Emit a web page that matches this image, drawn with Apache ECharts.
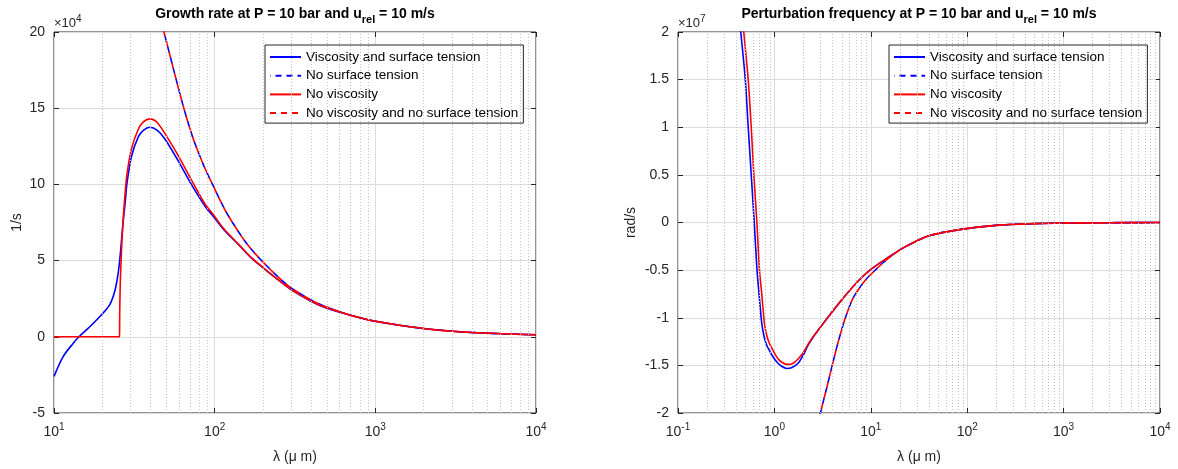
<!DOCTYPE html>
<html><head><meta charset="utf-8">
<script src="https://cdn.jsdelivr.net/npm/echarts@6/dist/echarts.min.js"></script>
<style>html,body{margin:0;padding:0;background:#fff}#c{width:1178px;height:469px}</style>
</head><body><div id="c"></div>
<script>
// ---------------- DATA ----------------
// Left panel: growth rate, values in units of 1e4 1/s, lambda in micrometres
const seriesNames = ['Viscosity and surface tension', 'No surface tension', 'No viscosity', 'No viscosity and no surface tension'];

const growthViscLambda = [10, 11.4, 13.1, 14.3, 16.7, 19.7, 22.2, 23.9, 25.1, 25.9, 26.8, 27.9, 28.4, 30.3, 33.4, 36, 39.5, 44, 48.9, 59.2, 71.6, 86.7, 100, 113.7, 140, 169, 200, 250, 300, 400, 495, 700, 1000, 2000, 4000, 10000];
const growthVisc       = [-2.6, -1.3, -0.45, 0, 0.66, 1.43, 2.09, 3.0, 4.2, 5.5, 7.3, 9.1, 10.0, 11.8, 13.1, 13.55, 13.75, 13.55, 13.0, 11.56, 10.0, 8.6, 7.8, 7.05, 6.07, 5.18, 4.53, 3.72, 3.08, 2.32, 1.89, 1.42, 1.02, 0.54, 0.28, 0.13];

const growthNoSTLambda = [45, 47.5, 50, 55, 63.5, 73, 85, 97, 115, 130, 160, 200, 250, 300, 400, 500, 700, 1000, 2000, 4000, 10000];
const growthNoST       = [21.5, 20.3, 19.4, 17.7, 15.2, 13.1, 11.3, 10.0, 8.4, 7.45, 6.05, 4.9, 3.9, 3.2, 2.4, 1.95, 1.42, 1.02, 0.54, 0.28, 0.13];

const growthNoViscLambda = [10, 25.6, 25.62, 25.7, 25.9, 26.3, 26.8, 27.5, 28.4, 30.3, 33.4, 36, 39.5, 44, 51.3, 59.2, 71.6, 86.7, 100, 113.7, 140, 169, 200, 250, 300, 400, 495, 700, 1000, 2000, 4000, 10000];
const growthNoVisc       = [0, 0, 1.0, 2.2, 3.8, 5.6, 7.3, 9.0, 10.6, 12.3, 13.6, 14.1, 14.3, 14.05, 13.0, 11.9, 10.3, 8.75, 7.9, 7.1, 6.1, 5.2, 4.55, 3.72, 3.1, 2.33, 1.9, 1.42, 1.02, 0.54, 0.28, 0.13];

const growthNoViscNoSTLambda = [45, 47.5, 50, 55, 63.5, 73, 85, 97, 115, 130, 160, 200, 250, 300, 400, 500, 700, 1000, 2000, 4000, 10000];
const growthNoViscNoST       = [21.5, 20.3, 19.4, 17.7, 15.2, 13.1, 11.3, 10.0, 8.4, 7.45, 6.05, 4.9, 3.9, 3.2, 2.4, 1.95, 1.42, 1.02, 0.54, 0.28, 0.13];

// Right panel: perturbation frequency, values in units of 1e7 rad/s
const freqViscLambda = [0.43, 0.448, 0.499, 0.535, 0.575, 0.618, 0.66, 0.692, 0.726, 0.743, 0.762, 0.789, 0.828, 0.885, 0.966, 1.064, 1.186, 1.343, 1.524, 1.76, 2.0, 2.2, 2.52, 3.0, 3.5, 4.97, 7.0, 9.8, 15, 22.7, 40, 83, 200, 500, 1000, 3000, 10000];
const freqVisc       = [2.2, 2.0, 1.5, 1.0, 0.5, 0.0, -0.5, -0.742, -0.984, -1.073, -1.141, -1.215, -1.283, -1.341, -1.409, -1.467, -1.509, -1.533, -1.522, -1.478, -1.39, -1.3, -1.205, -1.1, -1.01, -0.815, -0.64, -0.5, -0.37, -0.256, -0.14, -0.075, -0.03, -0.012, -0.006, -0.002, -0.0006];

const freqNoSTLambda = [2.9, 3.0, 3.5, 3.98, 4.6, 5.45, 6.5, 7.8, 9.0, 10.6, 13.5, 17.4, 22.7, 40, 83, 200, 500, 1000, 3000, 10000];
const freqNoST       = [-2.07, -2.0, -1.73, -1.5, -1.25, -1.0, -0.8, -0.674, -0.593, -0.52, -0.42, -0.33, -0.256, -0.14, -0.075, -0.03, -0.012, -0.006, -0.002, -0.0006];

const freqNoViscLambda = [0.46, 0.481, 0.535, 0.575, 0.612, 0.658, 0.7, 0.738, 0.774, 0.792, 0.812, 0.84, 0.88, 0.94, 1.02, 1.11, 1.23, 1.37, 1.55, 1.75, 2.0, 2.2, 2.52, 3.0, 3.5, 4.97, 7.0, 9.8, 15, 22.7, 40, 83, 200, 500, 1000, 3000, 10000];
const freqNoVisc       = [2.2, 2.0, 1.5, 1.0, 0.5, 0.0, -0.5, -0.742, -0.984, -1.073, -1.135, -1.2, -1.26, -1.32, -1.385, -1.44, -1.475, -1.49, -1.48, -1.435, -1.365, -1.29, -1.2, -1.1, -1.01, -0.815, -0.64, -0.5, -0.37, -0.256, -0.14, -0.075, -0.03, -0.012, -0.006, -0.002, -0.0006];

const freqNoViscNoSTLambda = [2.9, 3.0, 3.5, 3.98, 4.6, 5.45, 6.5, 7.8, 9.0, 10.6, 13.5, 17.4, 22.7, 40, 83, 200, 500, 1000, 3000, 10000];
const freqNoViscNoST       = [-2.07, -2.0, -1.73, -1.5, -1.25, -1.0, -0.8, -0.674, -0.593, -0.52, -0.42, -0.33, -0.256, -0.14, -0.075, -0.03, -0.012, -0.006, -0.002, -0.0006];

// Axis settings
const growthYTicks = { min: -5, max: 20, interval: 5 };
const freqYTicks = { min: -2, max: 2, interval: 0.5 };
const growthXRange = { min: 10, max: 10000 };
const freqXRange = { min: 0.1, max: 10000 };
const minorMultipliers = [2, 3, 4, 5, 6, 7, 8, 9];
const growthExponent = '4';
const freqExponent = '7';
const growthTitle = ['Growth rate at P = 10 bar and u', 'rel', ' = 10 m/s'];
const freqTitle = ['Perturbation frequency at P = 10 bar and u', 'rel', ' = 10 m/s'];
const xName = 'λ (μ m)';
const growthYName = '1/s';
const freqYName = 'rad/s';

// ---------------- CHART ----------------
const FONT = '"Liberation Sans", Arial, Helvetica, sans-serif';
const AX = '#262626';
const BLUE = '#0000ff', RED = '#ff0000';
const chart = echarts.init(document.getElementById('c'));

function pairs(xs, ys) { return xs.map((x, i) => [x, ys[i]]); }
function logLabel(v) { const e = Math.round(Math.log10(v)); return '{b|10}{s|' + e + '}'; }
const logRich = {
  b: { fontSize: 14, fontFamily: FONT, color: AX, lineHeight: 14 },
  s: { fontSize: 10, fontFamily: FONT, color: AX, lineHeight: 10, padding: [0, 0, 10, 0] }
};
function minorLines(minV, maxV) {
  const out = [];
  for (let e = Math.round(Math.log10(minV)); e < Math.round(Math.log10(maxV)); e++) {
    minorMultipliers.forEach(m => out.push({ xAxis: m * Math.pow(10, e) }));
  }
  return out;
}

const grids = [
  { left: 54, right: 642, top: 32, bottom: 56, show: true, borderColor: AX, borderWidth: 1, backgroundColor: 'transparent' },
  { left: 678, right: 18, top: 32, bottom: 56, show: true, borderColor: AX, borderWidth: 1, backgroundColor: 'transparent' }
];

function xAxes(gi, range) {
  return [
    {
      type: 'log', logBase: 10, gridIndex: gi, min: range.min, max: range.max, position: 'bottom',
      axisLine: { show: false, onZero: false }, axisTick: { show: true, inside: true, length: 5, lineStyle: { color: AX } },
      axisLabel: { formatter: logLabel, rich: logRich, margin: 12 },
      splitLine: { show: true, lineStyle: { color: '#dcdcdc', width: 1 } },
      name: xName, nameLocation: 'middle', nameGap: 37,
      nameTextStyle: { fontSize: 14, fontFamily: FONT, color: AX }
    },
    {
      type: 'log', logBase: 10, gridIndex: gi, min: range.min, max: range.max, position: 'top',
      axisLine: { show: false, onZero: false }, axisTick: { show: true, inside: true, length: 5, lineStyle: { color: AX } },
      axisLabel: { show: false }, splitLine: { show: false }
    }
  ];
}
function yAxes(gi, t, name, gap) {
  return [
    {
      type: 'value', gridIndex: gi, min: t.min, max: t.max, interval: t.interval, position: 'left',
      axisLine: { show: false, onZero: false }, axisTick: { show: true, inside: true, length: 5, lineStyle: { color: AX } },
      axisLabel: { fontSize: 14, fontFamily: FONT, color: AX, margin: 9 },
      splitLine: { show: true, lineStyle: { color: '#dcdcdc', width: 1 } },
      name: name, nameLocation: 'middle', nameGap: gap, nameRotate: 90,
      nameTextStyle: { fontSize: 14, fontFamily: FONT, color: AX }
    },
    {
      type: 'value', gridIndex: gi, min: t.min, max: t.max, interval: t.interval, position: 'right',
      axisLine: { show: false, onZero: false }, axisTick: { show: true, inside: true, length: 5, lineStyle: { color: AX } },
      axisLabel: { show: false }, splitLine: { show: false }
    }
  ];
}

function lineSeries(name, data, gi, color, dashed, offset) {
  return {
    name: name, type: 'line', xAxisIndex: gi * 2, yAxisIndex: gi * 2, data: data,
    symbol: 'none', showSymbol: false, smooth: 0.3, clip: true, z: 3,
    lineStyle: { color: color, width: 1.6, type: dashed ? [6, 5] : 'solid', dashOffset: offset || 0 },
    itemStyle: { color: color }, emphasis: { disabled: true }, silent: true
  };
}
function minorSeries(gi, range) {
  return {
    name: '', type: 'line', xAxisIndex: gi * 2, yAxisIndex: gi * 2, data: [], z: 1, silent: true,
    markLine: {
      silent: true, symbol: ['none', 'none'], label: { show: false }, animation: false,
      lineStyle: { type: [1, 2], color: '#c2c2c2', width: 1 },
      emphasis: { disabled: true },
      data: minorLines(range.min, range.max)
    }
  };
}

const legendBase = {
  data: seriesNames, orient: 'vertical', top: 45, itemWidth: 31, itemHeight: 14, itemGap: 4.7,
  textStyle: { fontSize: 13.5, fontFamily: FONT, color: '#000' },
  itemStyle: { opacity: 0 },
  backgroundColor: '#fff', borderColor: AX, borderWidth: 1, borderRadius: 0, padding: [5, 5, 3, 4],
  selectedMode: false
};

const titleRich = {
  t: { fontSize: 14, fontWeight: 'bold', fontFamily: FONT, color: '#000', lineHeight: 16 },
  sub: { fontSize: 11, fontWeight: 'bold', fontFamily: FONT, color: '#000', lineHeight: 11, padding: [12, 0, 0, 0] }
};
const expRich = {
  a: { fontSize: 13, fontWeight: 'normal', fontFamily: FONT, color: AX, lineHeight: 13 },
  s: { fontSize: 10, fontWeight: 'normal', fontFamily: FONT, color: AX, lineHeight: 10, padding: [0, 0, 9, 0] }
};

chart.setOption({
  animation: false,
  backgroundColor: '#fff',
  title: [
    { text: '{t|' + growthTitle[0] + '}{sub|' + growthTitle[1] + '}{t|' + growthTitle[2] + '}', left: 295, top: 6, textAlign: 'center', padding: 0, textStyle: { rich: titleRich } },
    { text: '{t|' + freqTitle[0] + '}{sub|' + freqTitle[1] + '}{t|' + freqTitle[2] + '}', left: 919, top: 6, textAlign: 'center', padding: 0, textStyle: { rich: titleRich } },
    { text: '{a|×10}{s|' + growthExponent + '}', left: 54, top: 17, padding: 0, textStyle: { fontWeight: 'normal', rich: expRich } },
    { text: '{a|×10}{s|' + freqExponent + '}', left: 678, top: 17, padding: 0, textStyle: { fontWeight: 'normal', rich: expRich } }
  ],
  legend: [
    Object.assign({}, legendBase, { left: 265 }),
    Object.assign({}, legendBase, { left: 889 })
  ],
  grid: grids,
  xAxis: [].concat(xAxes(0, growthXRange), xAxes(1, freqXRange)),
  yAxis: [].concat(yAxes(0, growthYTicks, growthYName, 30), yAxes(1, freqYTicks, freqYName, 40)),
  series: [
    minorSeries(0, growthXRange),
    lineSeries(seriesNames[0], pairs(growthViscLambda, growthVisc), 0, BLUE, false),
    lineSeries(seriesNames[1], pairs(growthNoSTLambda, growthNoST), 0, BLUE, true, 5.5),
    lineSeries(seriesNames[2], pairs(growthNoViscLambda, growthNoVisc), 0, RED, false),
    lineSeries(seriesNames[3], pairs(growthNoViscNoSTLambda, growthNoViscNoST), 0, RED, true, 0),
    minorSeries(1, freqXRange),
    lineSeries(seriesNames[0], pairs(freqViscLambda, freqVisc), 1, BLUE, false),
    lineSeries(seriesNames[1], pairs(freqNoSTLambda, freqNoST), 1, BLUE, true, 5.5),
    lineSeries(seriesNames[2], pairs(freqNoViscLambda, freqNoVisc), 1, RED, false),
    lineSeries(seriesNames[3], pairs(freqNoViscNoSTLambda, freqNoViscNoST), 1, RED, true, 0)
  ]
});
</script>
</body></html>
